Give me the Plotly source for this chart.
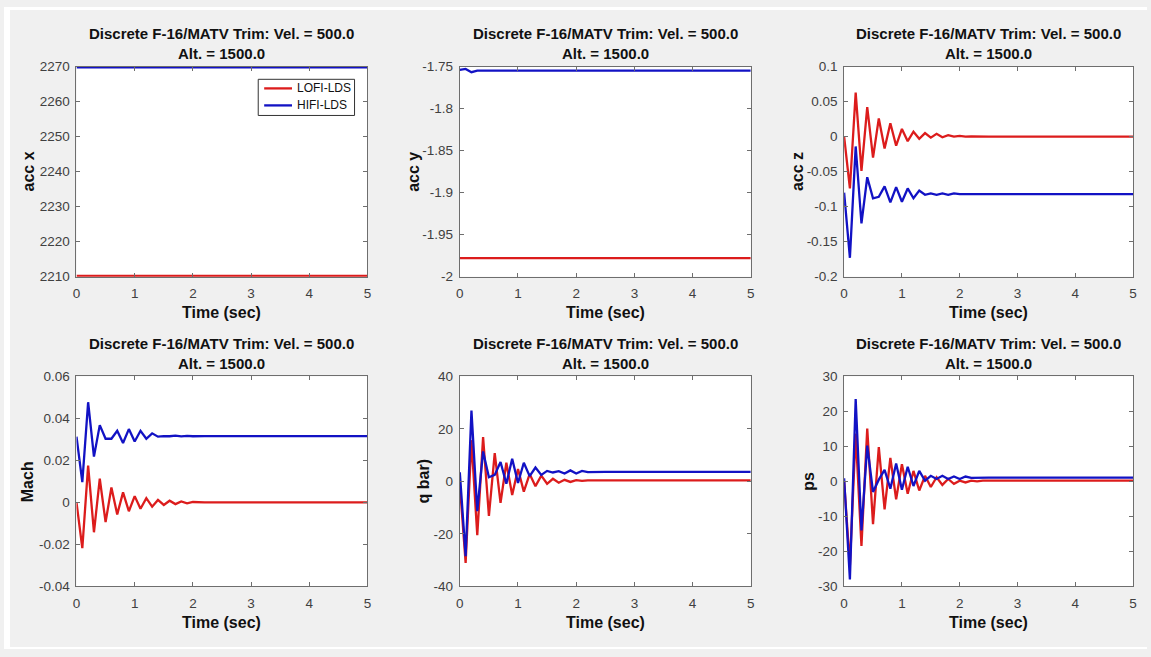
import plotly.graph_objects as go

# ---------------- data ----------------
T = [0.0, 0.1, 0.2, 0.3, 0.4, 0.5, 0.6, 0.7, 0.8, 0.9, 1.0, 1.1, 1.2, 1.3,
     1.4, 1.5, 1.6, 1.7, 1.8, 1.9, 2.0, 2.1, 2.2, 2.3, 2.4, 2.5, 5.0]
T_FLAT = [0.0, 5.0]
T_ACCY = [0.0, 0.1, 0.2, 0.3, 5.0]

accx_lofi = [2210.2, 2210.2]
accx_hifi = [2269.8, 2269.8]

accy_lofi = [-1.978, -1.978, -1.978, -1.978, -1.978]
accy_hifi = [-1.754, -1.7528, -1.7566, -1.7547, -1.7547]

accz_lofi = [0.0, -0.074, 0.063, -0.049, 0.042, -0.030, 0.026, -0.017, 0.019,
             -0.013, 0.011, -0.0065, 0.007, -0.003, 0.005, -0.0015, 0.004,
             -0.001, 0.002, 0.0, 0.001, 0.0, 0.0005, 0.0, 0.0, 0.0, 0.0]
accz_hifi = [-0.080, -0.173, -0.014, -0.124, -0.058, -0.088, -0.086, -0.071,
             -0.094, -0.072, -0.093, -0.074, -0.088, -0.077, -0.083, -0.081,
             -0.083, -0.081, -0.083, -0.081, -0.082, -0.082, -0.082, -0.082,
             -0.082, -0.082, -0.082]

mach_lofi = [0.0, -0.0218, 0.0175, -0.0142, 0.0113, -0.0094, 0.0071, -0.0057,
             0.0048, -0.0042, 0.003, -0.003, 0.002, -0.002, 0.0012, -0.0012,
             0.0008, -0.0008, 0.0005, -0.0004, 0.0002, 0.0, 0.0, 0.0, 0.0,
             0.0, 0.0]
mach_hifi = [0.0313, 0.0097, 0.0477, 0.0218, 0.0368, 0.0303, 0.0303, 0.0341,
             0.0283, 0.0349, 0.029, 0.0341, 0.0303, 0.0329, 0.0313, 0.0316,
             0.0315, 0.0318, 0.0314, 0.0317, 0.0315, 0.0317, 0.0316, 0.0316,
             0.0316, 0.0316, 0.0316]

qbar_lofi = [-1.0, -31.0, 15.7, -20.5, 16.9, -13.1, 10.8, -8.2, 7.1, -5.2,
             4.7, -3.9, 2.8, -1.8, 2.2, -0.9, 1.0, -0.5, 0.6, -0.2, 0.5, 0.2,
             0.4, 0.3, 0.4, 0.4, 0.4]
qbar_hifi = [3.5, -28.5, 27.0, -11.3, 11.4, 1.6, 2.5, 7.4, -0.9, 8.6, -0.6,
             7.1, 2.0, 5.3, 2.5, 4.0, 3.4, 3.9, 3.0, 4.2, 3.0, 4.0, 3.5, 3.6,
             3.6, 3.6, 3.6]

ps_lofi = [0.0, -24.0, 13.7, -18.4, 15.1, -12.2, 9.8, -8.0, 6.7, -5.1, 4.9,
           -3.5, 3.0, -2.6, 1.6, -1.6, 1.2, -1.0, 0.7, -0.7, 0.2, -0.3, 0.2,
           0.0, 0.2, 0.2, 0.2]
ps_hifi = [0.9, -28.0, 23.5, -14.0, 10.2, -3.0, 0.5, 3.3, -2.1, 5.1, -2.4,
           4.2, -1.3, 3.0, 0.2, 1.6, 0.7, 1.6, 0.7, 1.4, 0.7, 1.4, 1.0, 1.1,
           1.1, 1.1, 1.1]

x_ticks = [0, 1, 2, 3, 4, 5]
accx_ticks = [2210, 2220, 2230, 2240, 2250, 2260, 2270]
accx_ticktext = ["2210", "2220", "2230", "2240", "2250", "2260", "2270"]
accy_ticks = [-2.0, -1.95, -1.9, -1.85, -1.8, -1.75]
accy_ticktext = ["-2", "-1.95", "-1.9", "-1.85", "-1.8", "-1.75"]
accz_ticks = [-0.2, -0.15, -0.1, -0.05, 0.0, 0.05, 0.1]
accz_ticktext = ["-0.2", "-0.15", "-0.1", "-0.05", "0", "0.05", "0.1"]
mach_ticks = [-0.04, -0.02, 0.0, 0.02, 0.04, 0.06]
mach_ticktext = ["-0.04", "-0.02", "0", "0.02", "0.04", "0.06"]
qbar_ticks = [-40, -20, 0, 20, 40]
qbar_ticktext = ["-40", "-20", "0", "20", "40"]
ps_ticks = [-30, -20, -10, 0, 10, 20, 30]
ps_ticktext = ["-30", "-20", "-10", "0", "10", "20", "30"]

series_names = ["LOFI-LDS", "HIFI-LDS"]
title_line1 = "Discrete F-16/MATV Trim: Vel. = 500.0"
title_line2 = "Alt. = 1500.0"
x_label = "Time (sec)"

# ---------------- layout geometry ----------------
W, H = 1151, 657
RED = "#dc1c1c"
BLUE = "#1212c4"
COLORS = [RED, BLUE]
FONT = "Liberation Sans, Arial, sans-serif"

cols_px = [(73, 366), (459, 752), (846, 1137)]
rows_px = [(61, 276), (378, 593)]

panels = [
    dict(r=0, c=0, x=(T_FLAT, T_FLAT), y=(accx_lofi, accx_hifi), rng=[2210, 2270],
         tv=accx_ticks, tt=accx_ticktext, ylab="acc x", ylab_x=25),
    dict(r=0, c=1, x=(T_ACCY, T_ACCY), y=(accy_lofi, accy_hifi), rng=[-2.0, -1.75],
         tv=accy_ticks, tt=accy_ticktext, ylab="acc y", ylab_x=413),
    dict(r=0, c=2, x=(T, T), y=(accz_lofi, accz_hifi), rng=[-0.2, 0.1],
         tv=accz_ticks, tt=accz_ticktext, ylab="acc z", ylab_x=799),
    dict(r=1, c=0, x=(T, T), y=(mach_lofi, mach_hifi), rng=[-0.04, 0.06],
         tv=mach_ticks, tt=mach_ticktext, ylab="Mach", ylab_x=24),
    dict(r=1, c=1, x=(T, T), y=(qbar_lofi, qbar_hifi), rng=[-40, 40],
         tv=qbar_ticks, tt=qbar_ticktext, ylab="q bar)", ylab_x=422),
    dict(r=1, c=2, x=(T, T), y=(ps_lofi, ps_hifi), rng=[-30, 30],
         tv=ps_ticks, tt=ps_ticktext, ylab="ps", ylab_x=810),
]

fig = go.Figure()
annotations = []
layout_axes = {}

for i, p in enumerate(panels, start=1):
    xs = "" if i == 1 else str(i)
    x0, x1 = cols_px[p["c"]]
    y0, y1 = rows_px[p["r"]]
    for k, (name, color) in enumerate(zip(series_names, COLORS)):
        fig.add_trace(go.Scatter(
            x=p["x"][k], y=p["y"][k], mode="lines", name=name,
            line=dict(color=color, width=2.3),
            showlegend=False, xaxis="x" + xs, yaxis="y" + xs,
            hoverinfo="skip"))
    common = dict(showline=True, linecolor="#6e6e6e", linewidth=1, mirror="allticks",
                  ticks="inside", ticklen=4, tickcolor="#6e6e6e", showgrid=False,
                  zeroline=False, tickfont=dict(family=FONT, size=13.5, color="#404040"))
    layout_axes["xaxis" + xs] = dict(domain=[x0 / W, x1 / W], range=[0, 5],
                                     tickvals=x_ticks, anchor="y" + xs,
                                     ticklabelstandoff=4, **common)
    layout_axes["yaxis" + xs] = dict(domain=[1 - y1 / H, 1 - y0 / H], range=p["rng"],
                                     tickvals=p["tv"], ticktext=p["tt"],
                                     anchor="x" + xs, ticklabelstandoff=3, **common)
    cx = (x0 + x1) / 2
    annotations += [
        dict(text="<b>" + title_line1 + "</b>", x=cx / W, y=1 - (y0 - 33.5) / H),
        dict(text="<b>" + title_line2 + "</b>", x=cx / W, y=1 - (y0 - 13.3) / H),
    ]
    annotations.append(dict(text="<b>" + x_label + "</b>", x=cx / W,
                            y=1 - (y1 + 36.5) / H, font=dict(size=16)))
    annotations.append(dict(text="<b>" + p["ylab"] + "</b>", x=p["ylab_x"] / W,
                            y=1 - ((y0 + y1) / 2) / H, textangle=-90,
                            font=dict(size=16)))

for a in annotations:
    a.setdefault("font", dict(size=15))
    a["font"] = dict(family=FONT, color="#111111", **a["font"])
    a.update(xref="paper", yref="paper", xanchor="center", yanchor="middle",
             showarrow=False)

def px_x(v):
    return v / W

def px_y(v):
    return 1 - v / H

shapes = [
    dict(type="rect", xref="paper", yref="paper", x0=0, x1=6 / W, y0=0, y1=1,
         fillcolor="white", line=dict(width=0)),
    dict(type="rect", xref="paper", yref="paper", x0=0, x1=1, y0=1 - 3 / H, y1=1,
         fillcolor="white", line=dict(width=0)),
    dict(type="rect", xref="paper", yref="paper", x0=0, x1=1, y0=0, y1=2 / H,
         fillcolor="white", line=dict(width=0)),
]

# legend box (MATLAB style) inside the first panel
LEG = dict(x0=256, x1=353, y0=74, y1=111, row_y=[83.3, 100.7],
           line_x=(262, 290), text_x=293)
shapes.append(dict(type="rect", xref="paper", yref="paper",
                   x0=px_x(LEG["x0"]), x1=px_x(LEG["x1"]),
                   y0=px_y(LEG["y1"]), y1=px_y(LEG["y0"]),
                   fillcolor="white", line=dict(color="#333333", width=1),
                   layer="above"))
for name, color, ry in zip(series_names, COLORS, LEG["row_y"]):
    shapes.append(dict(type="line", xref="paper", yref="paper",
                       x0=px_x(LEG["line_x"][0]), x1=px_x(LEG["line_x"][1]),
                       y0=px_y(ry), y1=px_y(ry),
                       line=dict(color=color, width=2.3), layer="above"))
    annotations.append(dict(text=name, xref="paper", yref="paper",
                            x=px_x(LEG["text_x"]), y=px_y(ry), xanchor="left",
                            yanchor="middle", showarrow=False,
                            font=dict(family=FONT, size=12, color="#111111")))

fig.update_layout(
    width=W, height=H, margin=dict(l=0, r=0, t=0, b=0),
    paper_bgcolor="#f0f0f0", plot_bgcolor="white",
    font=dict(family=FONT),
    showlegend=False,
    annotations=annotations, shapes=shapes,
    **layout_axes,
)

fig.write_html(
    "out.html",
    config={"displayModeBar": False},
    post_script="document.body.style.margin='0';document.body.style.overflow='hidden';",
)
